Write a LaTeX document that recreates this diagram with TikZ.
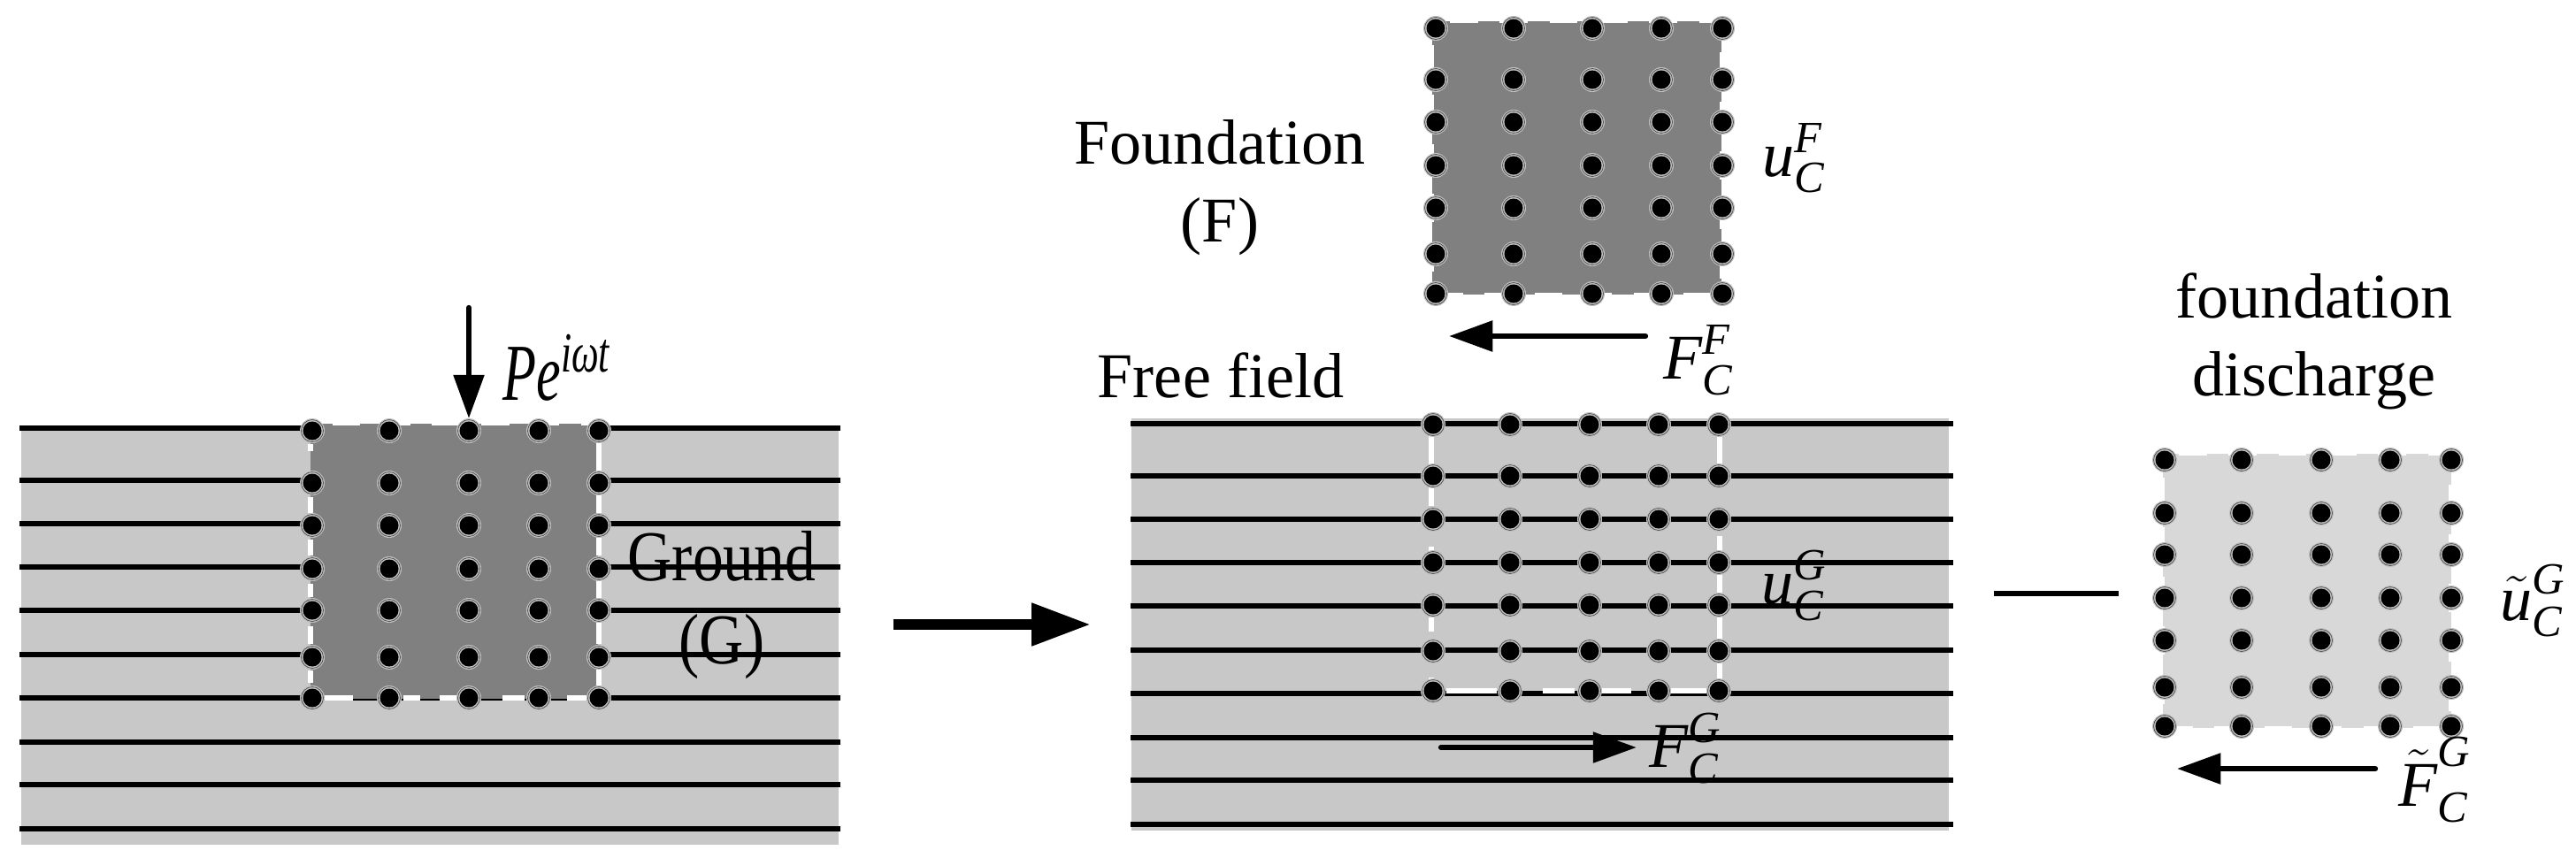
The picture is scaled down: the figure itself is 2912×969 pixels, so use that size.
\documentclass[tikz,border=0pt]{standalone}
\usepackage{amsmath}
\usepackage{fontspec}
\setmainfont{Liberation Serif}
\usetikzlibrary{arrows.meta}

\definecolor{soilgray}{HTML}{C8C8C8}
\definecolor{foundgray}{HTML}{808080}
\definecolor{dischgray}{HTML}{D8D8D8}
\definecolor{ringgray}{HTML}{C0C0C0}

\tikzset{
    layer/.style={black, line width=1.5pt},
    gapmark/.style={white, line width=1.8pt},
    edgedash/.style={line width=1.4pt, dash pattern=on 7pt off 9pt},
    force/.style={line width=1.8pt, line cap=round, -{Triangle[length=14pt,width=9.6pt]}},
    bigforce/.style={line width=3.4pt, -{Triangle[length=19pt,width=13pt]}},
    txt/.style={inner sep=0pt, font=\fontsize{20.5}{25}\selectfont, align=center},
    tallt/.style={txt, font=\fontsize{23}{26.5}\selectfont, xscale=0.86, transform shape},
    loadt/.style={inner sep=0pt, font=\fontsize{26}{30}\selectfont, xscale=0.68, transform shape},
    sym/.style={inner sep=0pt, anchor=base west, font=\fontsize{20.5}{25}\selectfont},
}

% one grid of monitored points
\newcommand{\dotgrid}[2]{
    \foreach \dx in {#1} {
        \foreach \dy in {#2} {
            \fill[ringgray] (\dx,\dy) circle (14);
            \draw[black!70, line width=0.2pt] (\dx,\dy) circle (12.5);
            \fill[black] (\dx,\dy) circle (10.5);
        }
    }
}

\begin{document}
\begin{tikzpicture}[x=0.01cm, y=-0.01cm]
    \useasboundingbox (0,0) rectangle (2912,969);

    \coordinate[] (Ptail) at (530,348);
    \coordinate[] (Ptip) at (530,473);
    \coordinate[] (Gotail) at (1010,706);
    \coordinate[] (Gotip) at (1233,706);
    \coordinate[] (FFtail) at (1860,380);
    \coordinate[] (FFtip) at (1638,380);
    \coordinate[] (FGtail) at (1629,845);
    \coordinate[] (FGtip) at (1850,845);
    \coordinate[] (DGtail) at (2685,869);
    \coordinate[] (DGtip) at (2461,869);
    \coordinate[] (Ma) at (2254,671);
    \coordinate[] (Mb) at (2395,671);

    % ground with the foundation in it
    \fill[soilgray] (24,483) rectangle (948,955);
    \foreach \ly in {484,543,592,641,690,740,789,839,887,937} {
        \draw[layer] (22,\ly) -- (950,\ly);
    }
    \fill[foundgray] (351,481) rectangle (676,790);
    \draw[foundgray, edgedash] (351,481) -- (676,481);
    \foreach \a/\b in {502/510,562/580,610/628,660/675,708/728,758/772} {
        \draw[gapmark] (351,\a) -- (351,\b);
    }
    \foreach \a/\b in {498/535,556/580,606/628,651/676,703/728,755/775} {
        \draw[gapmark] (677,\a) -- (677,\b);
    }
    \foreach \a/\b in {367/399,456/475,497/517,568/593,641/663} {
        \draw[gapmark] (\a,789) -- (\b,789);
    }
    \dotgrid{353,440,530,609,677}{487,546,594,643,690,743,789}

    % free field
    \fill[soilgray] (1279,473) rectangle (2203,939);
    \foreach \ly in {479,538,587,636,685,735,784,834,882,932} {
        \draw[layer] (1278,\ly) -- (2208,\ly);
    }
    \foreach \a/\b in {491/525,547/572,618/627,698/714,766/772} {
        \draw[gapmark] (1618,\a) -- (1618,\b);
    }
    \foreach \a/\b in {491/525,606/624,646/670,695/723,748/769} {
        \draw[gapmark] (1944,\a) -- (1944,\b);
    }
    \foreach \a/\b in {1635/1692,1744/1780,1810/1844,1889/1929} {
        \draw[gapmark] (\a,781) -- (\b,781);
    }
    \dotgrid{1620,1707,1797,1875,1943}{480,538,587,636,684,736,781}

    % foundation
    \fill[foundgray] (1621,26) rectangle (1944,331);
    \draw[foundgray, edgedash] (1621,26) rectangle (1944,331);
    \dotgrid{1623,1711,1800,1878,1947}{32,90,138,187,235,287,332}

    % foundation discharge
    \fill[dischgray] (2447,515) rectangle (2768,821);
    \draw[dischgray, edgedash] (2447,515) rectangle (2768,821);
    \dotgrid{2447,2534,2624,2702,2771}{520,580,627,676,724,777,821}

    \draw[force] (Ptail) -- (Ptip);
    \draw[bigforce] (Gotail) -- (Gotip);
    \draw[force] (FFtail) -- (FFtip);
    \draw[force] (FGtail) -- (FGtip);
    \draw[force] (DGtail) -- (DGtip);
    \draw[line width=1.7pt] (Ma) -- (Mb);

    \node[txt, anchor=base] (foundlbl) at (1379,273) {Foundation\\(F)};
    \node[txt, anchor=base] (freelbl) at (1380,449) {Free field};
    \node[txt, anchor=base] (dischlbl) at (2616,447) {foundation\\discharge};
    \node[tallt, anchor=base] (groundlbl) at (816,750) {Ground\\(G)};

    \node[loadt, anchor=base west] (load) at (568,452) {\textit{Pe}$^{\textit{iωt}}$};
    \node[sym] (uF) at (1992,199) {$\textit{u}_{\textit{C}}^{\textit{F}}$};
    \node[sym] (uG) at (1991,682) {$\textit{u}_{\textit{C}}^{\textit{G}}$};
    \node[sym] (uD) at (2826,701) {$\tilde{\textit{u}}_{\textit{C}}^{\textit{G}}$};
    \node[sym] (fF) at (1880,428) {$\textit{F}_{\textit{C}}^{\textit{F}}$};
    \node[sym] (fG) at (1864,867) {$\textit{F}_{\textit{C}}^{\textit{G}}$};
    \node[sym] (fD) at (2711,911) {$\tilde{\textit{F}}_{\textit{C}}^{\textit{G}}$};
\end{tikzpicture}
\end{document}
